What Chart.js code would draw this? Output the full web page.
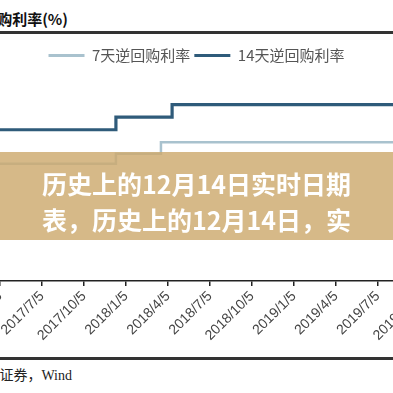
<!DOCTYPE html>
<html>
<head>
<meta charset="utf-8">
<script src="https://cdn.jsdelivr.net/npm/chart.js@4.4.1/dist/chart.umd.min.js"></script>
<style>
  html, body { margin: 0; padding: 0; width: 393px; height: 393px; overflow: hidden; background: #fff; }
  .title { position: absolute; right: 325px; top: 8px; white-space: nowrap; font: bold 15px "Noto Sans CJK SC", sans-serif; color: #111; }
  .rule { position: absolute; left: 0; width: 393px; height: 2.5px; background: #333; }
  .source { position: absolute; right: 321px; top: 364px; white-space: nowrap; font: 14px "Liberation Serif", "Noto Sans CJK SC", serif; color: #222; }
  #wrap { position: absolute; left: -60px; top: 36px; width: 513px; height: 319px; }
  .banner { position: absolute; left: 0; top: 152px; width: 393px; height: 88px; background: rgba(205,170,110,0.82);
            color: #fff; font: bold 25px "Noto Sans CJK SC", sans-serif; line-height: 36px; text-align: center; box-sizing: border-box; padding-top: 13px; white-space: nowrap; }
</style>
</head>
<body>
<div class="title">逆回购利率(%)</div>
<div class="rule" style="top:31px"></div>
<div id="wrap"><canvas id="c"></canvas></div>
<div class="rule" style="top:357px"></div>
<div class="source">资料来源：华西证券，Wind</div>
<div class="banner">历史上的12月14日实时日期<br>表，历史上的12月14日，实</div>
<script>
// quarterly tick labels on the x axis
const tickLabels = ['2017/4/5','2017/7/5','2017/10/5','2018/1/5','2018/4/5','2018/7/5','2018/10/5','2019/1/5','2019/4/5','2019/7/5','2019/10/5'];
// 7-day reverse repo rate (%) — change dates and values
const repo7Dates  = ['2017/3/16','2017/12/14','2018/3/21','2019/10/5'];
const repo7Values = [2.33, 2.41, 2.50, 2.50];
// 14-day reverse repo rate (%)
const repo14Dates  = ['2017/3/16','2017/12/14','2018/4/14','2019/10/5'];
const repo14Values = [2.60, 2.70, 2.80, 2.80];
const seriesNames = ['7天逆回购利率','14天逆回购利率'];

function parseD(s){ const [y,m,d] = s.split('/').map(Number); return Date.UTC(y, m-1, d); }
const tickTimes = tickLabels.map(parseD);
// position on the axis measured in quarters (one unit between consecutive ticks)
function toQ(s){
  const t = parseD(s);
  if (t <= tickTimes[0]) return (t - tickTimes[0]) / (91*864e5);
  for (let i = 0; i < tickTimes.length - 1; i++) {
    if (t <= tickTimes[i+1]) return i + (t - tickTimes[i]) / (tickTimes[i+1] - tickTimes[i]);
  }
  return tickTimes.length - 1 + (t - tickTimes[tickTimes.length-1]) / (91*864e5);
}
const pts = (dates, vals) => dates.map((d,i)=>({x: toQ(d), y: vals[i]}));

new Chart(document.getElementById('c'), {
  type: 'line',
  data: {
    datasets: [
      { label: seriesNames[0], data: pts(repo7Dates, repo7Values), borderColor: '#a9c2ce', backgroundColor: '#a9c2ce', borderWidth: 2.5, pointRadius: 0, stepped: 'before' },
      { label: seriesNames[1], data: pts(repo14Dates, repo14Values), borderColor: '#2f5b7a', backgroundColor: '#2f5b7a', borderWidth: 3.2, pointRadius: 0, stepped: 'before' }
    ]
  },
  options: {
    responsive: true,
    maintainAspectRatio: false,
    animation: false,
    layout: { padding: { left: 18, right: 18, top: 8, bottom: 9 } },
    plugins: {
      tooltip: { enabled: false },
      legend: {
        position: 'top',
        labels: {
          boxWidth: 36, boxHeight: 3, padding: 4,
          color: '#555',
          font: { size: 15, family: '"Noto Sans CJK SC", sans-serif' },
          generateLabels(chart) {
            return chart.data.datasets.map((ds, i) => ({
              text: ds.label, fillStyle: ds.borderColor, strokeStyle: ds.borderColor,
              lineWidth: 0, hidden: false, datasetIndex: i, fontColor: '#555'
            }));
          }
        }
      }
    },
    scales: {
      x: {
        type: 'linear',
        min: -1, max: 10.36,
        afterBuildTicks(scale) { scale.ticks = tickLabels.map((l, i) => ({ value: i })); },
        ticks: {
          autoSkip: false, maxRotation: 45, minRotation: 45, padding: 2,
          color: '#444', font: { size: 14, family: '"Liberation Sans", Arial, sans-serif' },
          callback: (v) => tickLabels[v] ?? ''
        },
        grid: { display: true, drawOnChartArea: false, tickLength: 5, color: '#222', lineWidth: 1.5 },
        border: { display: true, color: '#222', width: 1.5 }
      },
      y: {
        display: false,
        min: 1.4, max: 3.05
      }
    }
  }
});
</script>
</body>
</html>
